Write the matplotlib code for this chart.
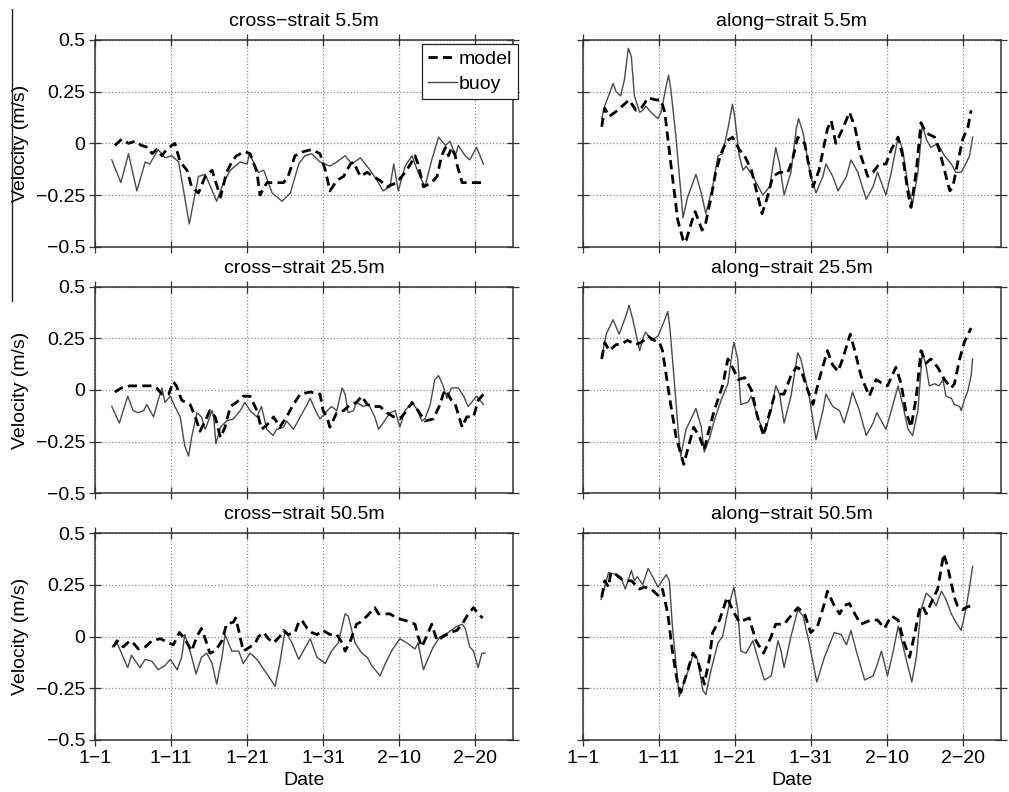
import matplotlib
matplotlib.use("Agg")
import matplotlib.pyplot as plt
from matplotlib.lines import Line2D

plt.rcParams['font.family'] = ['Liberation Sans', 'DejaVu Sans']

# days since 1 January
tick_days = [0, 10, 20, 30, 40, 50]
tick_labels = ['1\u22121', '1\u221211', '1\u221221', '1\u221231', '2\u221210', '2\u221220']
ytick_vals = [-0.5, -0.25, 0, 0.25, 0.5]
ytick_labels = ['\u22120.5', '\u22120.25', '0', '0.25', '0.5']

# cross-strait 5.5m
cs5_t_buoy = [2.2, 3.4, 4.4, 5.5, 6.6, 7.2, 8.3, 9.2, 10.1, 11.0, 12.4, 13.6, 14.5, 16.0, 16.9, 17.8,
              19.1, 20.0, 20.3, 21.5, 22.2, 23.3, 24.6, 25.7, 26.8, 27.6, 28.5, 29.6, 30.9, 31.8, 32.9,
              33.8, 34.9, 36.2, 37.1, 37.9, 38.8, 39.3, 39.9, 40.8, 41.7, 42.5, 43.4, 44.3, 45.2, 46.1,
              46.7, 47.4, 47.8, 48.7, 49.3, 50.2, 51.1]
cs5_buoy = [-0.08, -0.19, -0.05, -0.23, -0.09, -0.1, -0.03, -0.07, -0.06, -0.09, -0.39, -0.16, -0.15,
            -0.28, -0.19, -0.13, -0.09, -0.1, -0.05, -0.14, -0.13, -0.24, -0.28, -0.24, -0.1, -0.06,
            -0.05, -0.09, -0.11, -0.09, -0.06, -0.1, -0.07, -0.13, -0.18, -0.23, -0.21, -0.1, -0.23,
            -0.11, -0.06, -0.14, -0.21, -0.08, 0.03, -0.01, 0.01, -0.06, -0.01, -0.06, -0.08, -0.02, -0.1]
cs5_t_model = [2.6, 3.5, 4.4, 5.3, 6.1, 7.0, 7.5, 8.1, 8.8, 9.2, 10.1, 10.5, 11.2, 12.1, 12.7, 13.6,
               14.5, 15.4, 16.5, 17.3, 18.0, 18.6, 19.7, 20.4, 21.3, 21.7, 22.6, 23.9, 24.8, 25.4, 26.3,
               27.4, 28.5, 29.6, 30.3, 30.9, 31.8, 32.7, 33.6, 34.0, 34.9, 35.8, 36.6, 37.5, 38.4, 39.7,
               40.8, 41.5, 42.1, 42.5, 43.2, 44.3, 45.0, 45.6, 46.1, 46.5, 46.9, 47.4, 47.6, 48.3, 48.9,
               49.8, 51.1]
cs5_model = [-0.01, 0.02, 0.0, 0.01, -0.01, -0.02, -0.05, -0.03, -0.06, -0.04, -0.01, 0.0, -0.09,
             -0.13, -0.21, -0.24, -0.16, -0.13, -0.26, -0.14, -0.09, -0.06, -0.04, -0.05, -0.14, -0.25,
             -0.19, -0.19, -0.19, -0.16, -0.06, -0.04, -0.03, -0.05, -0.13, -0.23, -0.18, -0.16, -0.1,
             -0.09, -0.16, -0.14, -0.16, -0.18, -0.21, -0.19, -0.14, -0.1, -0.06, -0.1, -0.21, -0.19,
             -0.16, -0.06, -0.02, -0.06, -0.02, -0.06, -0.1, -0.19, -0.19, -0.19, -0.19]

# along-strait 5.5m
as5_t_buoy = [2.5, 2.9, 3.4, 4.0, 4.4, 5.0, 5.5, 6.0, 6.4, 6.8, 7.5, 7.9, 8.3, 9.0, 9.9, 10.3, 11.0,
              11.3, 11.6, 12.3, 13.2, 13.8, 14.9, 15.6, 16.2, 17.1, 17.8, 18.4, 19.1, 19.7, 20.0, 20.6,
              21.1, 21.5, 22.4, 23.7, 24.6, 25.4, 25.9, 26.5, 27.4, 28.1, 28.4, 29.0, 30.0, 30.7, 31.6,
              32.0, 32.9, 33.6, 34.7, 35.3, 36.2, 37.3, 38.2, 38.8, 39.5, 39.9, 40.6, 41.5, 42.1, 42.8,
              43.4, 44.1, 44.7, 45.2, 45.8, 46.7, 47.6, 48.5, 49.1, 49.8, 50.4, 50.9, 51.3]
as5_buoy = [0.12, 0.18, 0.23, 0.29, 0.25, 0.23, 0.31, 0.46, 0.42, 0.23, 0.15, 0.16, 0.18, 0.15, 0.12,
            0.15, 0.28, 0.33, 0.26, 0.02, -0.36, -0.26, -0.15, -0.24, -0.34, -0.21, -0.06, -0.05, 0.07,
            0.19, 0.13, -0.06, -0.13, -0.11, -0.16, -0.25, -0.21, -0.02, -0.1, -0.25, -0.14, 0.07, 0.12,
            0.05, -0.16, -0.24, -0.16, -0.1, -0.16, -0.23, -0.16, -0.08, -0.14, -0.27, -0.21, -0.14,
            -0.21, -0.25, -0.14, 0.03, -0.03, -0.21, -0.29, -0.14, 0.09, 0.02, -0.02, 0.0, -0.06, -0.1,
            -0.14, -0.14, -0.1, -0.06, 0.03]
as5_t_model = [2.5, 2.9, 3.5, 4.6, 5.5, 6.1, 7.0, 7.7, 8.6, 9.7, 10.3, 10.8, 11.6, 12.5, 13.3, 13.6,
               14.5, 14.8, 15.7, 16.1, 16.9, 17.5, 18.2, 18.9, 19.7, 20.6, 21.3, 22.2, 23.6, 24.3, 25.0,
               25.9, 27.0, 27.6, 28.3, 29.2, 30.3, 31.1, 32.2, 32.7, 33.3, 34.2, 35.1, 35.8, 36.6, 37.5,
               38.2, 39.0, 39.9, 40.6, 41.5, 42.1, 42.8, 43.2, 43.9, 44.5, 45.2, 46.3, 46.9, 47.6, 48.3,
               48.7, 49.3, 50.0, 50.7, 51.1]
as5_model = [0.08, 0.17, 0.13, 0.16, 0.19, 0.21, 0.16, 0.17, 0.22, 0.21, 0.21, 0.15, -0.1, -0.37,
             -0.48, -0.47, -0.36, -0.33, -0.42, -0.4, -0.26, -0.14, -0.05, 0.01, 0.03, -0.03, -0.06,
             -0.13, -0.34, -0.26, -0.16, -0.14, -0.14, -0.08, 0.03, 0.0, -0.21, -0.13, 0.07, 0.11, 0.0,
             0.07, 0.15, 0.08, -0.06, -0.16, -0.14, -0.1, -0.1, -0.03, 0.03, -0.06, -0.24, -0.31, -0.13,
             0.1, 0.05, 0.03, -0.03, -0.13, -0.23, -0.21, -0.1, 0.02, 0.08, 0.16]

# cross-strait 25.5m
cs25_t_buoy = [2.2, 3.2, 4.3, 5.0, 5.7, 6.4, 6.8, 7.7, 8.3, 8.8, 9.2, 9.9, 10.5, 11.2, 11.8, 12.3, 12.7,
               13.4, 14.0, 14.5, 15.4, 15.6, 15.9, 16.5, 17.3, 18.2, 19.1, 19.7, 20.4, 21.3, 21.9, 22.6,
               23.4, 23.9, 24.8, 25.2, 26.1, 27.0, 27.9, 28.3, 29.0, 29.6, 30.3, 31.1, 31.8, 32.5, 32.9,
               33.3, 34.0, 34.4, 35.3, 36.0, 36.8, 37.3, 37.9, 38.8, 39.5, 40.1, 40.8, 41.7, 42.3, 43.0,
               43.4, 44.1, 44.7, 45.2, 45.8, 46.3, 46.9, 47.8, 48.5, 49.1, 50.2, 51.1]
cs25_buoy = [-0.08, -0.16, -0.03, -0.1, -0.11, -0.1, -0.07, -0.13, -0.05, 0.01, -0.06, -0.03, -0.08,
             -0.13, -0.27, -0.32, -0.23, -0.11, -0.13, -0.19, -0.1, -0.13, -0.26, -0.18, -0.15, -0.14,
             -0.1, -0.06, -0.1, -0.13, -0.08, -0.19, -0.22, -0.19, -0.18, -0.15, -0.19, -0.13, -0.07,
             -0.04, -0.1, -0.14, -0.11, -0.08, -0.1, 0.01, -0.02, -0.11, -0.1, -0.06, -0.08, -0.07,
             -0.13, -0.19, -0.16, -0.11, -0.1, -0.18, -0.1, -0.06, -0.09, -0.15, -0.14, -0.07, 0.05,
             0.07, 0.02, -0.04, 0.01, 0.01, -0.03, -0.08, -0.03, -0.07]
cs25_t_model = [2.6, 3.5, 4.6, 5.9, 7.5, 8.1, 8.8, 9.7, 10.3, 10.7, 11.4, 12.5, 13.2, 13.8, 14.5, 15.1,
                15.8, 16.5, 17.1, 17.8, 18.6, 19.5, 20.4, 21.3, 21.9, 22.6, 23.5, 24.3, 25.2, 26.1, 27.0,
                28.3, 29.6, 30.0, 30.5, 30.9, 31.8, 32.7, 33.6, 34.4, 35.1, 35.8, 36.6, 37.5, 38.4, 39.3,
                40.1, 41.0, 41.7, 42.5, 43.4, 44.5, 45.4, 45.8, 46.1, 46.9, 47.4, 48.3, 48.9, 49.8, 50.4,
                51.1]
cs25_model = [-0.01, 0.01, 0.02, 0.02, 0.02, 0.01, -0.02, -0.02, 0.04, 0.02, -0.05, -0.07, -0.13, -0.2,
              -0.15, -0.1, -0.13, -0.23, -0.18, -0.08, -0.06, -0.03, -0.03, -0.1, -0.19, -0.17, -0.13,
              -0.18, -0.13, -0.07, -0.02, -0.01, -0.02, -0.1, -0.13, -0.18, -0.11, -0.1, -0.07, -0.06,
              -0.03, -0.07, -0.08, -0.08, -0.11, -0.13, -0.14, -0.1, -0.06, -0.1, -0.15, -0.14, -0.07,
              -0.02, 0.0, -0.05, -0.07, -0.18, -0.13, -0.13, -0.05, -0.02]

# along-strait 25.5m
as25_t_buoy = [2.5, 3.1, 4.0, 4.8, 5.7, 6.1, 6.6, 7.5, 8.0, 8.3, 9.0, 9.9, 10.8, 11.2, 11.5, 12.1, 12.6,
               12.9, 13.6, 14.9, 15.6, 16.0, 16.7, 17.3, 18.2, 19.1, 19.7, 19.9, 20.4, 20.8, 21.7, 22.2,
               23.0, 23.9, 24.8, 25.4, 25.9, 26.5, 27.4, 28.3, 28.7, 29.8, 30.7, 31.6, 32.0, 32.9, 33.8,
               34.4, 35.1, 35.5, 36.4, 37.3, 38.2, 38.7, 39.3, 39.9, 40.6, 41.5, 42.1, 42.8, 43.4, 44.1,
               44.7, 45.2, 45.6, 46.3, 46.9, 47.4, 47.8, 48.5, 48.9, 49.6, 49.8, 50.2, 50.7, 51.1, 51.3]
as25_buoy = [0.16, 0.27, 0.34, 0.27, 0.36, 0.41, 0.34, 0.19, 0.26, 0.28, 0.24, 0.26, 0.34, 0.38, 0.29,
             0.02, -0.21, -0.32, -0.19, -0.09, -0.18, -0.3, -0.23, -0.15, -0.05, 0.03, 0.19, 0.23,
             0.15, -0.07, -0.06, -0.03, -0.13, -0.21, -0.1, 0.02, -0.02, -0.16, -0.03, 0.18, 0.15,
             -0.03, -0.24, -0.1, -0.02, -0.08, -0.1, -0.16, -0.07, -0.01, -0.1, -0.22, -0.16, -0.11,
             -0.15, -0.19, -0.1, 0.02, -0.07, -0.19, -0.22, -0.1, 0.19, 0.11, 0.02, 0.03, 0.02, 0.05,
             -0.03, -0.04, -0.07, -0.08, -0.1, -0.05, 0.0, 0.07, 0.15]
as25_t_model = [2.5, 2.9, 3.5, 4.4, 5.0, 5.9, 7.0, 7.7, 8.6, 9.4, 10.1, 10.5, 11.4, 12.3, 13.3, 13.8,
                14.6, 15.4, 16.0, 16.5, 17.3, 18.4, 19.1, 19.7, 20.5, 21.3, 22.2, 23.0, 23.8, 24.6, 25.2,
                25.9, 26.5, 27.4, 28.1, 28.7, 29.6, 30.3, 31.1, 32.2, 32.9, 33.6, 34.2, 35.2, 35.8, 36.6,
                37.7, 38.6, 39.5, 40.1, 41.2, 41.9, 42.5, 43.2, 43.9, 44.5, 45.2, 45.8, 46.7, 47.6, 48.5,
                48.9, 49.6, 50.2, 51.1]
as25_model = [0.15, 0.23, 0.19, 0.22, 0.22, 0.24, 0.22, 0.23, 0.26, 0.24, 0.23, 0.19, -0.03, -0.23,
              -0.36, -0.29, -0.18, -0.23, -0.29, -0.21, -0.1, 0.02, 0.15, 0.11, 0.05, 0.06, 0.0, -0.13,
              -0.22, -0.11, -0.03, -0.02, -0.02, 0.07, 0.11, 0.1, 0.0, -0.07, 0.05, 0.19, 0.12, 0.09,
              0.15, 0.27, 0.19, 0.07, -0.03, 0.05, 0.03, 0.02, 0.11, 0.03, -0.1, -0.18, -0.03, 0.19,
              0.13, 0.15, 0.11, 0.05, 0.01, 0.03, 0.15, 0.23, 0.3]

# cross-strait 50.5m
cs50_t_buoy = [2.3, 2.9, 3.7, 4.3, 4.8, 5.9, 6.6, 7.5, 8.3, 9.2, 9.9, 10.8, 11.4, 11.8, 12.5, 13.3,
               14.0, 14.7, 15.4, 16.0, 16.7, 17.1, 18.0, 18.9, 19.5, 20.4, 21.3, 22.6, 23.7, 24.3, 25.0,
               25.9, 26.8, 28.3, 29.2, 30.3, 31.1, 32.0, 32.9, 33.3, 34.2, 35.1, 35.8, 36.4, 37.5, 38.2,
               39.0, 40.1, 41.0, 42.1, 42.5, 43.2, 43.9, 44.5, 45.4, 46.5, 47.6, 48.3, 48.7, 49.3, 49.8,
               50.4, 50.9, 51.3]
cs50_buoy = [-0.05, -0.03, -0.1, -0.15, -0.09, -0.15, -0.11, -0.12, -0.16, -0.14, -0.11, -0.16, -0.1,
             0.01, -0.07, -0.18, -0.1, -0.08, -0.13, -0.23, -0.1, 0.01, -0.07, -0.07, -0.13, -0.08,
             -0.11, -0.18, -0.24, -0.13, 0.03, -0.03, -0.11, -0.01, -0.1, -0.13, -0.07, -0.03, 0.11,
             0.1, -0.03, -0.08, -0.1, -0.14, -0.19, -0.13, -0.07, -0.01, -0.03, -0.06, -0.03, -0.16,
             -0.1, -0.05, 0.0, 0.02, 0.05, 0.06, 0.04, -0.05, -0.07, -0.15, -0.08, -0.08]
cs50_t_model = [2.4, 2.9, 3.7, 4.6, 5.0, 5.7, 6.6, 7.5, 8.6, 9.7, 10.3, 11.1, 11.8, 12.7, 13.4, 14.0,
                14.5, 15.1, 15.8, 16.7, 17.3, 18.2, 18.5, 18.9, 19.5, 20.4, 21.1, 21.5, 22.2, 22.8, 23.5,
                24.3, 24.8, 25.4, 26.3, 26.8, 27.2, 27.9, 28.5, 29.2, 30.0, 30.9, 31.8, 32.5, 32.9, 33.6,
                34.4, 34.9, 35.8, 36.8, 37.3, 37.9, 38.8, 39.7, 40.6, 41.5, 42.1, 42.5, 43.0, 43.6, 44.3,
                45.0, 45.8, 46.7, 47.6, 48.3, 49.1, 49.8, 50.4, 51.0]
cs50_model = [-0.05, -0.02, -0.05, -0.02, -0.03, -0.06, -0.05, -0.02, -0.01, -0.03, -0.04, 0.02, -0.01,
              -0.07, 0.0, 0.04, -0.01, -0.08, -0.07, -0.02, 0.06, 0.07, 0.09, 0.03, -0.07, -0.05, -0.03,
              0.0, 0.02, -0.01, -0.03, 0.0, 0.03, 0.01, 0.02, 0.07, 0.08, 0.04, 0.02, 0.01, 0.03, 0.01,
              0.01, -0.03, -0.07, -0.02, 0.06, 0.07, 0.1, 0.14, 0.11, 0.11, 0.11, 0.09, 0.08, 0.07,
              0.06, 0.0, -0.05, 0.0, 0.06, -0.02, 0.0, 0.02, 0.03, 0.06, 0.11, 0.14, 0.11, 0.09]

# along-strait 50.5m
as50_t_buoy = [2.4, 2.9, 3.4, 4.4, 5.0, 5.6, 6.4, 6.8, 7.2, 7.9, 8.6, 9.2, 9.9, 11.0, 11.4, 11.8, 12.7,
               13.2, 14.0, 14.6, 15.1, 15.8, 16.2, 16.9, 17.8, 18.4, 19.3, 19.9, 20.4, 20.8, 21.5, 22.4,
               23.0, 23.9, 24.8, 25.7, 26.1, 26.5, 27.4, 28.3, 29.0, 29.8, 30.8, 31.8, 33.1, 34.0, 34.7,
               35.3, 36.0, 37.1, 38.2, 38.8, 39.3, 39.7, 40.1, 40.8, 41.5, 42.3, 43.3, 43.9, 44.5, 45.2,
               45.8, 46.5, 47.2, 47.8, 48.5, 49.1, 49.8, 50.4, 50.9, 51.3]
as50_buoy = [0.18, 0.24, 0.31, 0.3, 0.29, 0.23, 0.32, 0.27, 0.29, 0.25, 0.33, 0.29, 0.24, 0.3, 0.27,
             0.05, -0.29, -0.24, -0.15, -0.08, -0.11, -0.26, -0.28, -0.16, -0.03, 0.0, 0.16, 0.24,
             0.13, -0.07, -0.08, -0.02, -0.1, -0.21, -0.19, -0.02, -0.07, -0.15, 0.0, 0.13, 0.1, -0.03,
             -0.22, -0.1, 0.02, 0.01, -0.04, 0.03, -0.07, -0.21, -0.19, -0.13, -0.07, -0.13, -0.19,
             -0.08, 0.05, -0.07, -0.22, -0.1, 0.13, 0.21, 0.19, 0.15, 0.22, 0.18, 0.11, 0.07, 0.03,
             0.13, 0.24, 0.34]
as50_t_model = [2.5, 2.9, 3.4, 3.7, 4.4, 5.0, 5.7, 6.4, 7.5, 8.1, 9.0, 9.9, 10.5, 11.2, 11.8, 12.5, 12.9,
                13.6, 14.5, 15.1, 16.0, 16.7, 17.1, 18.0, 19.0, 19.7, 20.6, 21.9, 22.8, 23.8, 24.8, 25.4,
                26.5, 27.6, 28.3, 29.2, 30.0, 30.9, 31.8, 32.2, 33.1, 33.8, 34.4, 35.1, 35.8, 36.6, 37.9,
                38.8, 39.7, 40.6, 41.5, 42.3, 43.0, 43.6, 44.3, 44.7, 45.2, 45.8, 46.7, 47.5, 48.0, 48.9,
                49.3, 50.0, 50.4, 51.1]
as50_model = [0.19, 0.27, 0.24, 0.31, 0.3, 0.28, 0.27, 0.27, 0.23, 0.24, 0.23, 0.2, 0.23, 0.11, -0.07,
              -0.23, -0.27, -0.19, -0.08, -0.11, -0.23, -0.1, 0.02, 0.08, 0.19, 0.13, 0.07, 0.09, -0.02,
              -0.08, 0.0, 0.06, 0.06, 0.11, 0.14, 0.11, 0.02, 0.05, 0.16, 0.22, 0.15, 0.11, 0.15, 0.16,
              0.11, 0.06, 0.08, 0.08, 0.04, 0.1, 0.08, -0.03, -0.1, 0.0, 0.13, 0.15, 0.11, 0.16, 0.23,
              0.4, 0.34, 0.19, 0.15, 0.13, 0.14, 0.15]

panels = [
    ('cross\u2212strait 5.5m', cs5_t_model, cs5_model, cs5_t_buoy, cs5_buoy),
    ('along\u2212strait 5.5m', as5_t_model, as5_model, as5_t_buoy, as5_buoy),
    ('cross\u2212strait 25.5m', cs25_t_model, cs25_model, cs25_t_buoy, cs25_buoy),
    ('along\u2212strait 25.5m', as25_t_model, as25_model, as25_t_buoy, as25_buoy),
    ('cross\u2212strait 50.5m', cs50_t_model, cs50_model, cs50_t_buoy, cs50_buoy),
    ('along\u2212strait 50.5m', as50_t_model, as50_model, as50_t_buoy, as50_buoy),
]

fig = plt.figure(figsize=(10.09, 7.92), dpi=100)
bottoms = [0.6885, 0.3771, 0.0657]
lefts = [0.0942, 0.5775]
fs = 14

for i, (title, tm, vm, tb, vb) in enumerate(panels):
    row, col = divmod(i, 2)
    ax = fig.add_axes([lefts[col], bottoms[row], 0.4143, 0.261])
    ax.plot(tm, vm, color='black', lw=2.0, ls=(0, (3.3, 1.9)), label='model', zorder=3)
    ax.plot(tb, vb, color='#4a4a4a', lw=1.0, label='buoy', zorder=2)
    ax.set_xlim(0, 55)
    ax.set_ylim(-0.5, 0.5)
    ax.set_xticks(tick_days)
    ax.set_yticks(ytick_vals)
    ax.grid(True, ls=':', color='#8c8c8c', lw=0.9)
    ax.tick_params(direction='inout', top=True, right=True, length=8, width=0.9,
                   labelsize=fs, pad=3.2, color='#333333')
    for s in ax.spines.values():
        s.set_linewidth(1.1)
        s.set_color('#333333')
    ax.set_title(title, fontsize=fs, pad=10)
    if col == 0:
        ax.set_yticklabels(ytick_labels)
        ax.set_ylabel('Velocity (m/s)', fontsize=fs, labelpad=5)
    else:
        ax.set_yticklabels([])
    if row == 2:
        ax.set_xticklabels(tick_labels)
        ax.set_xlabel('Date', fontsize=fs, labelpad=3.5)
    else:
        ax.set_xticklabels([])
    if i == 0:
        leg = ax.legend(loc='upper right', bbox_to_anchor=(1.012, 0.98), fontsize=fs,
                        frameon=True, fancybox=False, handlelength=1.5, handletextpad=0.1,
                        borderpad=0.3, labelspacing=0.4, borderaxespad=0, framealpha=1)
        leg.get_frame().set_edgecolor('#222222')
        leg.get_frame().set_linewidth(0.9)

# thin page border on the left edge of the scan
fig.add_artist(Line2D([0.0123, 0.0123], [0.989, 0.62], color='#222222', lw=1.0))

fig.savefig('out.png', dpi=100)
